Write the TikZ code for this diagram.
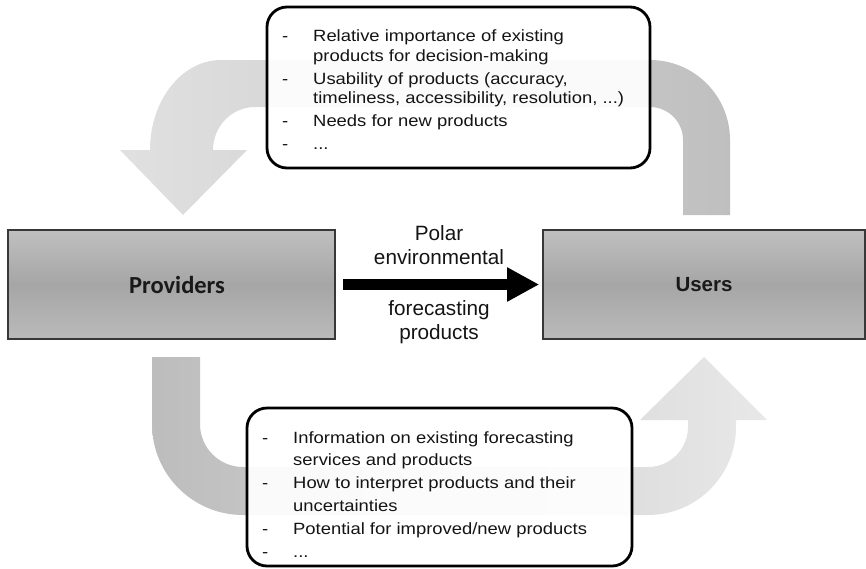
\documentclass[tikz,border=0pt]{standalone}
\usepackage{fontspec}
\setmainfont{Liberation Sans}
\newfontfamily\boxfont[FakeStretch=1.13]{Liberation Sans}
\newfontfamily\calfont{Carlito}
\usetikzlibrary{arrows.meta}
\begin{document}
\begin{tikzpicture}[x=1pt,y=-1pt,
  graybox/.style={draw=black!78, line width=1.6pt, top color=gray!50, bottom color=gray!54, middle color=gray!70, inner sep=0pt},
  tbox/.style={draw=black, line width=2.8pt, rounded corners=20pt, fill=white, fill opacity=0.92, inner sep=0pt},
  ttext/.style={anchor=base west, inner sep=0pt, text=black!92},
  mlabel/.style={anchor=base, inner sep=0pt, text=black!92, font=\fontsize{20.7}{24}\selectfont}]
\useasboundingbox (0,0) rectangle (866,568);
% top curved arrow (users -> providers)
\shade[left color=black!12, right color=black!25]
  (730,215) -- (730,140) arc[start angle=0, end angle=-90, radius=80]
  -- (221,60) arc[start angle=-90, end angle=-180, x radius=71, y radius=90]
  -- (120,150) -- (183,215) -- (247,150) -- (213,150)
  arc[start angle=180, end angle=270, x radius=42, y radius=43]
  -- (650,107) arc[start angle=270, end angle=360, radius=33]
  -- (683,215) -- cycle;
% bottom curved arrow (providers -> users)
\shade[left color=black!26, right color=black!9]
  (152,357) -- (152,424) arc[start angle=180, end angle=90, radius=91]
  -- (648,515) arc[start angle=90, end angle=0, radius=88]
  -- (736,420) -- (767,420) -- (704,357) -- (640,420) -- (688,420)
  -- (688,427) arc[start angle=0, end angle=90, radius=40]
  -- (243,467) arc[start angle=90, end angle=180, radius=43]
  -- (200,357) -- cycle;
% main boxes
\node[graybox, minimum width=327pt, minimum height=109pt,
      font=\calfont\bfseries\fontsize{24.5}{29}\selectfont, text=black!90] (prov) at (171.5,284.5) {\hspace*{11pt}Providers};
\node[graybox, minimum width=322pt, minimum height=109pt,
      font=\bfseries\fontsize{20.5}{24}\selectfont, text=black!90] (users) at (704,284.5) {Users};
% central arrow
\draw[line width=11pt, -{Triangle[length=32pt,width=32pt]}, shorten <=7pt, shorten >=3pt] (prov.east) -- (users.west);
\node[mlabel] (lblA) at (439,240) {\begin{tabular}[t]{@{}c@{}}Polar\\environmental\end{tabular}};
\node[mlabel] (lblB) at (439,315) {\begin{tabular}[t]{@{}c@{}}forecasting\\products\end{tabular}};
% text boxes
\node[tbox, minimum width=383pt, minimum height=161pt] (topbox) at (458.5,87.5) {};
\node[ttext, font=\boxfont\fontsize{16.3}{19.5}\selectfont] (toptext) at (282,41.7)
  {\begin{tabular}[t]{@{}p{31pt}@{}l@{}}
  - & Relative importance of existing\\
    & products for decision-making\\[3.5pt]
  - & Usability of products (accuracy,\\
    & timeliness, accessibility, resolution, ...)\\[3.5pt]
  - & Needs for new products\\[3.5pt]
  - & ...
  \end{tabular}};
\node[tbox, minimum width=385pt, minimum height=158pt] (botbox) at (439.5,487) {};
\node[ttext, font=\boxfont\fontsize{16.3}{22.8}\selectfont] (bottext) at (262,443)
  {\begin{tabular}[t]{@{}p{31pt}@{}l@{}}
  - & Information on existing forecasting\\
    & services and products\\
  - & How to interpret products and their\\
    & uncertainties\\
  - & Potential for improved/new products\\
  - & ...
  \end{tabular}};
\end{tikzpicture}
\end{document}
